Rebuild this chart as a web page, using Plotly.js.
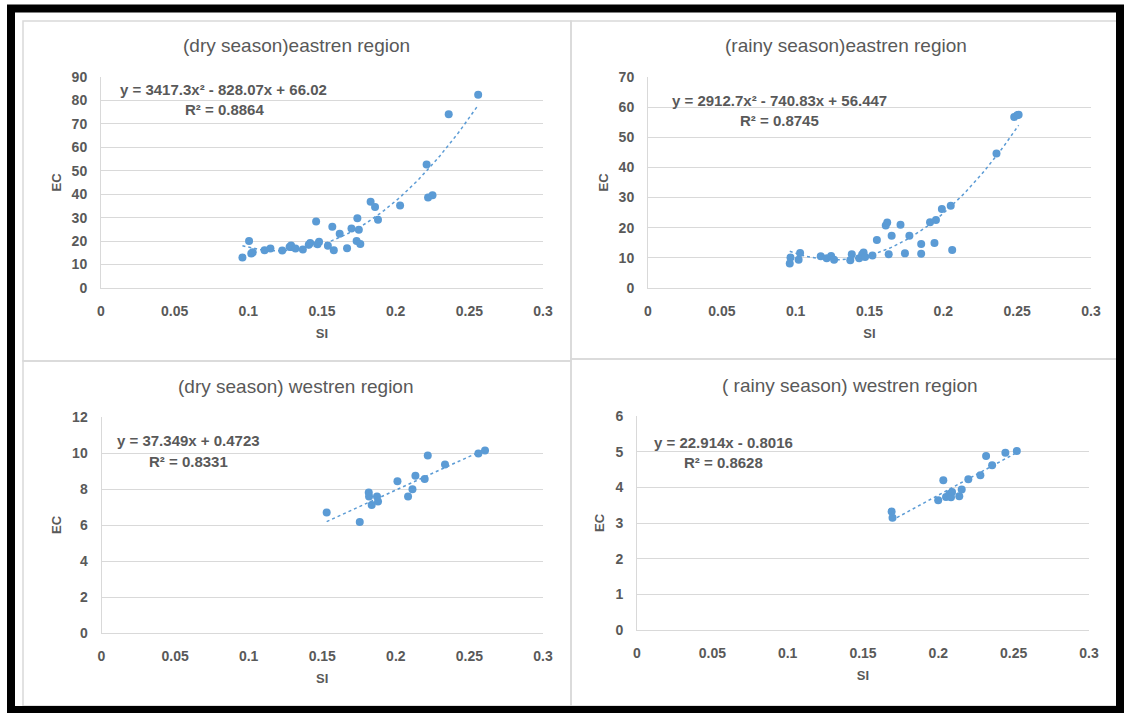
<!DOCTYPE html>
<html>
<head>
<meta charset="utf-8">
<script src="https://cdn.plot.ly/plotly-3.0.1.min.js"></script>
<style>html,body{margin:0;padding:0;background:#fff;}#chart{width:1128px;height:713px;}</style>
</head>
<body>
<div id="chart"></div>
<script>
// ---- data ----
const panelTitles = ["(dry season)eastren region", "(rainy season)eastren region", "(dry season) westren region", "( rainy season) westren region"];
const xTitle = "SI";
const yTitle = "EC";

const dryEastSI = [0.096,0.1005,0.102,0.103,0.111,0.115,0.123,0.128,0.129,0.132,0.137,0.141,0.142,0.146,0.147,0.148,0.154,0.157,0.158,0.162,0.167,0.170,0.174,0.175,0.1735,0.176,0.183,0.186,0.188,0.203,0.221,0.222,0.225,0.236,0.256];
const dryEastEC = [13.0,20.1,14.7,15.2,16.1,16.8,16.0,17.5,18.1,16.8,16.4,18.5,19.2,28.4,18.7,19.7,18.0,26.1,16.1,23.1,17.0,25.4,29.7,24.8,20.0,18.8,36.8,34.6,29.1,35.2,52.7,38.6,39.6,74.1,82.4];

const rainyEastSI = [0.096,0.0965,0.102,0.103,0.117,0.121,0.124,0.126,0.137,0.138,0.143,0.145,0.146,0.147,0.152,0.155,0.161,0.162,0.163,0.165,0.171,0.174,0.177,0.185,0.185,0.191,0.194,0.195,0.199,0.205,0.206,0.236,0.248,0.250,0.251];
const rainyEastEC = [8.1,10.1,9.4,11.6,10.5,9.9,10.6,9.4,9.2,11.2,9.9,11.1,11.8,10.3,10.8,15.9,20.7,21.7,11.2,17.3,21.0,11.5,17.3,14.6,11.4,21.8,14.9,22.6,26.2,27.3,12.6,44.6,56.7,57.3,57.5];

const dryWestSI = [0.153,0.1755,0.1816,0.1818,0.1836,0.1872,0.1879,0.2011,0.2083,0.2113,0.2133,0.2196,0.2217,0.2334,0.2561,0.2606];
const dryWestEC = [6.69,6.17,7.80,7.58,7.11,7.58,7.30,8.43,7.58,7.99,8.73,8.56,9.86,9.36,9.97,10.14];

const rainyWestSI = [0.169,0.1696,0.1999,0.2033,0.2051,0.2073,0.2084,0.2091,0.2139,0.2155,0.2199,0.2279,0.2317,0.2357,0.2445,0.2521];
const rainyWestEC = [3.32,3.15,3.64,4.20,3.73,3.81,3.72,3.87,3.75,3.94,4.23,4.34,4.88,4.62,4.97,5.02];

// trendline coefficients (c2, c1, c0) as printed on the chart
const dryEastCoef = [3417.3, -828.07, 66.02];
const rainyEastCoef = [2912.7, -740.83, 56.447];
const dryWestCoef = [0, 37.349, 0.4723];
const rainyWestCoef = [0, 22.914, -0.8016];

const equations = ["y = 3417.3x² - 828.07x + 66.02", "y = 2912.7x² - 740.83x + 56.447", "y = 37.349x + 0.4723", "y = 22.914x - 0.8016"];
const r2Labels = ["R² = 0.8864", "R² = 0.8745", "R² = 0.8331", "R² = 0.8628"];

const yMax = [90, 70, 12, 6];
const yStep = [10, 10, 2, 1];

// ---- build ----
const W = 1128, H = 713;
const px = v => v / W;
const py = v => 1 - v / H;

const series = [
  [dryEastSI, dryEastEC, dryEastCoef],
  [rainyEastSI, rainyEastEC, rainyEastCoef],
  [dryWestSI, dryWestEC, dryWestCoef],
  [rainyWestSI, rainyWestEC, rainyWestCoef]
];

// plot-area pixel boxes [left, right, top, bottom]
const boxes = [
  [101, 543, 77, 288],
  [648, 1091, 77, 288],
  [101.5, 543, 417, 633],
  [637, 1089, 416, 630]
];
const blue = "#5B9BD5";
const grey = "#595959";
const grid = "#d9d9d9";
const fam = "Liberation Sans, Arial, sans-serif";

const data = [];
const layout = {
  width: W, height: H,
  margin: {l: 0, r: 0, t: 0, b: 0},
  paper_bgcolor: "#fff", plot_bgcolor: "#fff",
  showlegend: false,
  font: {family: fam, color: grey},
  annotations: [], shapes: []
};

series.forEach((s, i) => {
  const n = i === 0 ? "" : String(i + 1);
  const xa = "x" + n, ya = "y" + n;
  const [xs, ys, c] = s;
  const xmin = Math.min(...xs), xmax = Math.max(...xs);
  const tx = [], ty = [];
  for (let k = 0; k <= 80; k++) {
    const x = xmin + (xmax - xmin) * k / 80;
    tx.push(x); ty.push(c[0] * x * x + c[1] * x + c[2]);
  }
  data.push({x: tx, y: ty, xaxis: xa, yaxis: ya, mode: "lines", type: "scatter",
    line: {color: blue, width: 1.5, dash: "dot"}, hoverinfo: "skip"});
  data.push({x: xs, y: ys, xaxis: xa, yaxis: ya, mode: "markers", type: "scatter",
    marker: {color: blue, size: 8}});

  const b = boxes[i];
  layout["xaxis" + n] = {
    domain: [px(b[0]), px(b[1])], anchor: ya, range: [0, 0.3], dtick: 0.05, tick0: 0,
    showgrid: false, zeroline: false, showline: true, linecolor: grid, linewidth: 1,
    ticks: "", ticklabelstandoff: 10,
    tickfont: {family: fam, size: 14, color: grey, weight: "bold"},
    title: {text: xTitle, font: {family: fam, size: 13, color: grey, weight: "bold"}, standoff: 11},
    automargin: false, fixedrange: true
  };
  layout["yaxis" + n] = {
    domain: [py(b[3]), py(b[2])], anchor: xa, range: [0, yMax[i]], dtick: yStep[i], tick0: 0,
    showgrid: true, gridcolor: grid, gridwidth: 1, zeroline: false, showline: true, linecolor: grid, linewidth: 1,
    ticks: "", ticklabelstandoff: 10,
    tickfont: {family: fam, size: 14, color: grey, weight: "bold"},
    title: {text: yTitle, font: {family: fam, size: 13, color: grey, weight: "bold"}, standoff: 7},
    automargin: false, fixedrange: true
  };
});

// panel titles
const titlePos = [[296, 46], [846, 46], [296, 386], [850, 385]];
titlePos.forEach((p, i) => {
  layout.annotations.push({xref: "paper", yref: "paper", x: px(p[0]), y: py(p[1]),
    text: panelTitles[i], showarrow: false, xanchor: "center", yanchor: "middle",
    font: {family: fam, size: 19, color: grey}});
});
// equations
const eqPos = [[118, 89, 183, 110], [670, 100, 738, 120], [115, 440, 147, 461], [652, 443, 682, 463]];
eqPos.forEach((p, i) => {
  layout.annotations.push({xref: "paper", yref: "paper", x: px(p[0]), y: py(p[1]),
    text: equations[i], showarrow: false, xanchor: "left", yanchor: "middle",
    font: {family: fam, size: 15, color: grey, weight: "bold"}});
  layout.annotations.push({xref: "paper", yref: "paper", x: px(p[2]), y: py(p[3]),
    text: r2Labels[i], showarrow: false, xanchor: "left", yanchor: "middle",
    font: {family: fam, size: 15, color: grey, weight: "bold"}});
});

// panel borders
const panels = [[23, 571, 21, 361], [571, 1117, 21, 359], [23, 571, 361, 706], [571, 1117, 359, 706]];
panels.forEach(p => {
  layout.shapes.push({type: "rect", xref: "paper", yref: "paper",
    x0: px(p[0]), x1: px(p[1]), y0: py(p[3]), y1: py(p[2]),
    line: {color: grid, width: 1.5}, fillcolor: "rgba(0,0,0,0)", layer: "below"});
});
// black outer frame
layout.shapes.push({type: "rect", xref: "paper", yref: "paper",
  x0: px(11), x1: px(1120), y0: py(710), y1: py(8.5),
  line: {color: "#000", width: 8}, fillcolor: "rgba(0,0,0,0)"});

Plotly.newPlot("chart", data, layout, {displayModeBar: false, staticPlot: true});
</script>
</body>
</html>
